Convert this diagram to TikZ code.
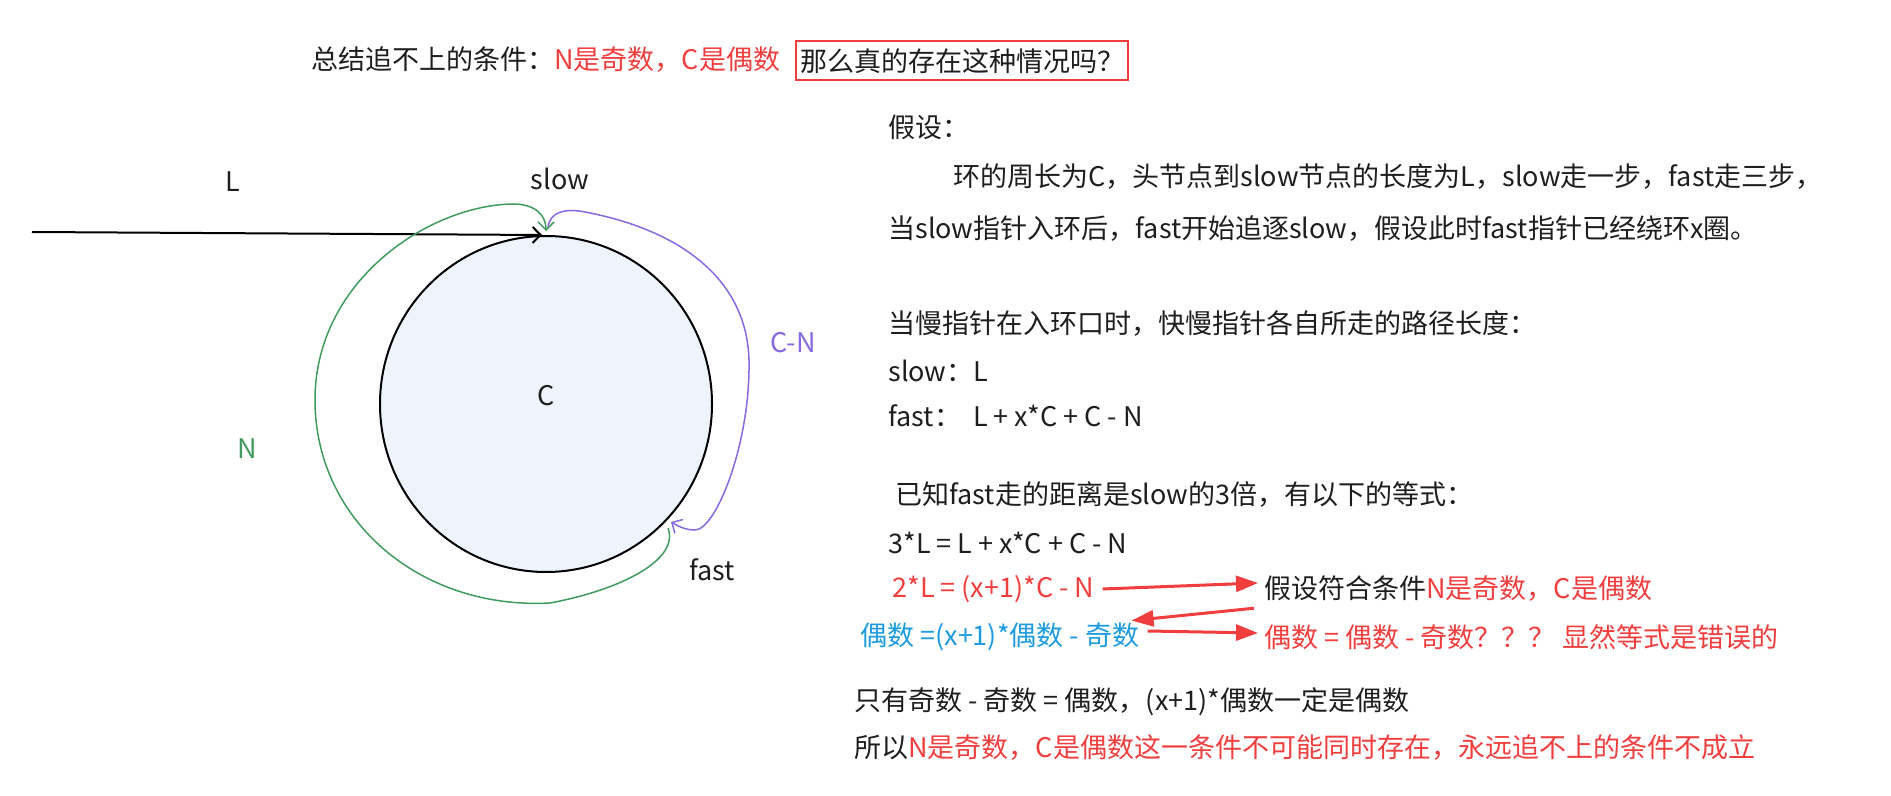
\documentclass[tikz,border=0pt]{standalone}
\usepackage{fontspec}
\setmainfont{Noto Sans CJK SC}
\usepackage{tikz}
\usetikzlibrary{arrows.meta,positioning,shapes.geometric,calc}
\usepackage{xcolor}

\definecolor{inkred}{RGB}{240,62,62}
\definecolor{inkblue}{RGB}{28,155,224}
\definecolor{inkgreen}{RGB}{64,155,95}
\definecolor{inkpurple}{RGB}{135,105,225}
\definecolor{ringfill}{RGB}{238,243,252}
\definecolor{ink}{RGB}{30,30,30}

\begin{document}
\begin{tikzpicture}[x=0.5pt, y=-0.5pt,
    txt/.style={anchor=west, inner sep=0pt, text=ink, font=\fontsize{13.5pt}{16pt}\selectfont},
    lbl/.style={inner sep=0pt, text=ink, font=\fontsize{13.5pt}{16pt}\selectfont},
    ring/.style={ellipse, draw=black, fill=ringfill, line width=1pt, minimum width=166pt, minimum height=168pt, inner sep=0pt},
    barb/.style={-{Straight Barb[length=4pt,width=8pt]}, line width=0.75pt},
    fat/.style={-{Triangle[length=11pt,width=8pt]}, draw=inkred, line width=1.5pt}
]
\useasboundingbox (0,0) rectangle (1891,796);

% title
\node[txt] (title) at (311,60) {总结追不上的条件：\textcolor{inkred}{N是奇数，C是偶数}};
\node[txt, draw=inkred, line width=1pt, inner xsep=2pt, minimum height=19.5pt] (ask) at (795,61) {那么真的存在这种情况吗？};

% ring
\node[ring] (ring) at (546,404) {};
\node[lbl] (clbl) at (546,396) {C};
\coordinate (head) at (32,232);
\coordinate (entry) at (542,235);
\coordinate (slowin) at (546,231);
\coordinate (slowout) at (548,227);
\coordinate (fastin) at (671,522);
\coordinate (fastout) at (668,528);

\node[lbl] (llbl) at (233,182) {L};
\node[lbl] (slowlbl) at (560,179) {slow};
\node[lbl] (fastlbl) at (712,570) {fast};
\node[lbl, text=inkgreen] (nlbl) at (247,449) {N};
\node[lbl, text=inkpurple] (cnlbl) at (793,343) {C-N};

\draw[barb, line width=1pt] (head) -- (entry);
\draw[barb, draw=inkgreen] (fastout) .. controls (680,560) and (620,590) .. (550,603)
    .. controls (420,610) and (315,520) .. (315,400)
    .. controls (315,280) and (430,205) .. (513,204)
    .. controls (535,204) and (546,215) .. (slowin);
\draw[barb, draw=inkpurple] (slowout) .. controls (550,212) and (565,208) .. (585,212)
    .. controls (680,230) and (752,280) .. (749,370)
    .. controls (748,450) and (715,530) .. (695,530)
    .. controls (685,530) and (678,526) .. (fastin);

% reasoning
\node[txt] (assume) at (888,127) {假设：};
\node[txt] (def1) at (953,177) {环的周长为C，头节点到slow节点的长度为L，slow走一步，fast走三步，};
\node[txt] (def2) at (888,229) {当slow指针入环后，fast开始追逐slow，假设此时fast指针已经绕环x圈。};
\node[txt] (when) at (888,323) {当慢指针在入环口时，快慢指针各自所走的路径长度：};
\node[txt] (slowlen) at (888,371) {slow：L};
\node[txt] (fastlen) at (888,416) {fast：\ \ L + x*C + C - N};
\node[txt] (known) at (895,494) {已知fast走的距离是slow的3倍，有以下的等式：};
\node[txt] (eq1) at (888,543) {3*L = L + x*C + C - N};
\node[txt, text=inkred] (eq2) at (892,589) {2*L = (x+1)*C - N};
\node[txt] (hyp) at (1264,589) {假设符合条件\textcolor{inkred}{N是奇数，C是偶数}};
\node[txt, text=inkblue] (eq3) at (860,637) {偶数 =(x+1)*偶数 - 奇数};
\node[txt, text=inkred] (contra) at (1264,637) {偶数 = 偶数 - 奇数？？？ 显然等式是错误的};
\node[txt] (only) at (854,702) {只有奇数 - 奇数 = 偶数，(x+1)*偶数一定是偶数};
\node[txt] (concl) at (854,748) {所以\textcolor{inkred}{N是奇数，C是偶数这一条件不可能同时存在，永远追不上的条件不成立}};

\draw[fat] ([xshift=4pt]eq2.east) -- ([xshift=-3pt,yshift=3pt]hyp.west);
\draw[fat] ([xshift=-5pt,yshift=-3pt]hyp.south west) -- ([xshift=-4pt,yshift=1pt]eq3.north east);
\draw[fat] ([xshift=4pt,yshift=3pt]eq3.east) -- ([xshift=-3pt,yshift=2pt]contra.west);
\end{tikzpicture}
\end{document}
